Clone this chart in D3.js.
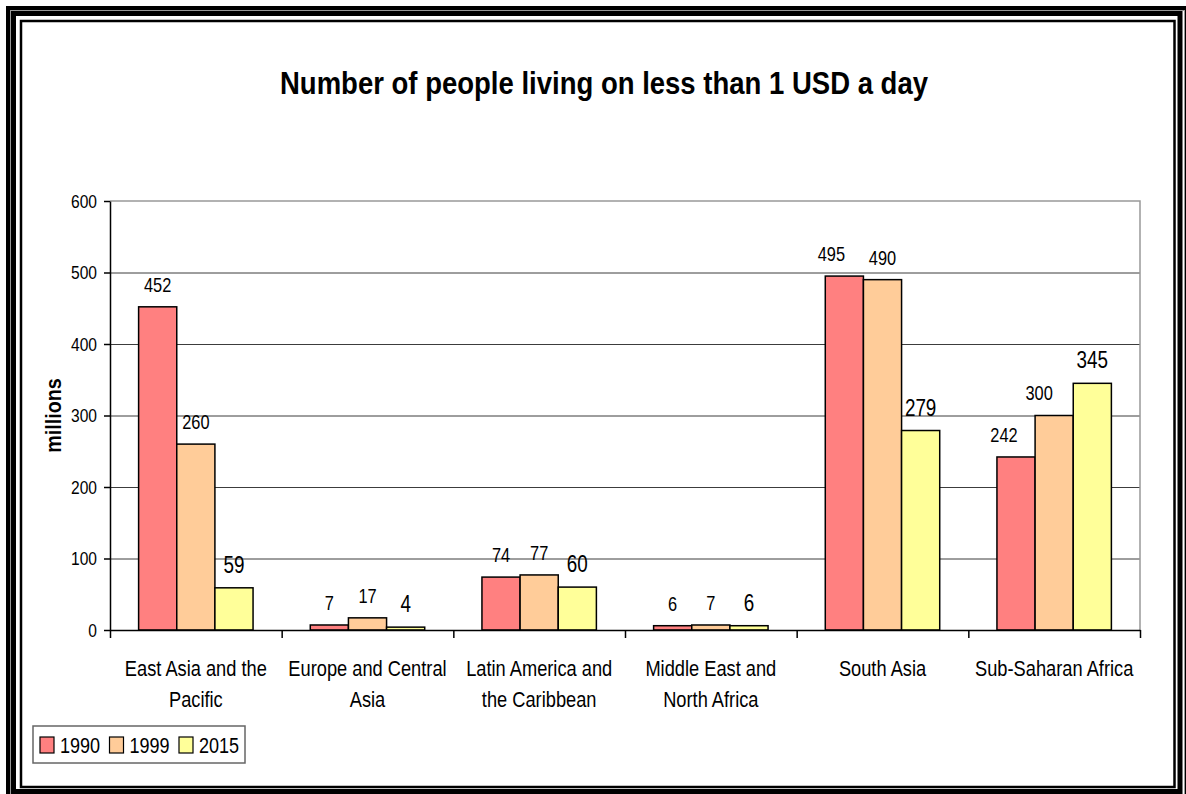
<!DOCTYPE html>
<html lang="en">
<head>
    <meta charset="UTF-8">
    <script src="https://d3js.org/d3.v7.min.js"></script>
    <title>People living on less than 1 USD a day</title>
    <style>
        body { margin: 0; background: #fff; }
        text { font-family: "Liberation Sans Narrow", "Arial Narrow", "Liberation Sans", Arial, sans-serif; fill: #000; }
    </style>
</head>
<body>
    <script>

        // data (millions of people)
        var categories = [
            ["East Asia and the", "Pacific"],
            ["Europe and Central", "Asia"],
            ["Latin America and", "the Caribbean"],
            ["Middle East and", "North Africa"],
            ["South Asia"],
            ["Sub-Saharan Africa"]
        ];
        var series = ["1990", "1999", "2015"];
        var values1990 = [452, 7, 74, 6, 495, 242];
        var values1999 = [260, 17, 77, 7, 490, 300];
        var values2015 = [59, 4, 60, 6, 279, 345];
        var yTicks = [0, 100, 200, 300, 400, 500, 600];
        var colors = ["#ff8080", "#ffcc99", "#ffff99"];

        var width = 1186, height = 794;
        var margin = {top: 201, right: 46, bottom: 164, left: 110};
        var plotW = width - margin.left - margin.right;
        var plotH = height - margin.top - margin.bottom;

        // the original uses a narrow face, squeeze the text sideways to get the same look
        var narrow = 0.82;
        function squeeze(sel, k) {
            sel.each(function() {
                var t = d3.select(this);
                var ax = +t.attr("x") || 0;
                var prev = t.attr("transform") || "";
                t.attr("transform", prev + " translate(" + ax + ",0) scale(" + k + ",1) translate(" + (-ax) + ",0)");
            });
        }

        var catNames = categories.map(function(c) {return c.join(" ")});
        var allValues = [values1990, values1999, values2015];

        var data = [];
        catNames.forEach(function(name, i) {
            series.forEach(function(s, j) {
                data.push({cat: name, series: s, si: j, value: allValues[j][i]});
            });
        });

        var svg = d3.select("body")
            .append("svg")
            .attr("width", width)
            .attr("height", height);

        // the frame around the whole chart
        var frame = svg.append("g").attr("fill", "none");
        frame.append("rect").attr("x", 8).attr("y", 8).attr("width", 1178).attr("height", 790)
            .attr("stroke", "#000").attr("stroke-width", 4);
        frame.append("rect").attr("x", 10.5).attr("y", 10.5).attr("width", 1174).attr("height", 785)
            .attr("stroke", "#999").attr("stroke-width", 1);
        frame.append("rect").attr("x", 13.5).attr("y", 13.5).attr("width", 1166.5).attr("height", 778)
            .attr("stroke", "#000").attr("stroke-width", 5);
        frame.append("rect").attr("x", 21).attr("y", 21).attr("width", 1153.5).attr("height", 766)
            .attr("stroke", "#000").attr("stroke-width", 2.5);

        var x0 = d3.scaleBand()
            .domain(catNames)
            .range([margin.left, margin.left + plotW]);

        var x1 = d3.scaleBand()
            .domain(series)
            .range([0, x0.bandwidth()])
            .paddingOuter(0.75);

        var xEdge = d3.scaleLinear()
            .domain([0, catNames.length])
            .range([margin.left, margin.left + plotW]);

        var y = d3.scaleLinear()
            .domain([0, 600])
            .range([margin.top + plotH, margin.top]);

        var color = d3.scaleOrdinal().domain(series).range(colors);

        // grid lines
        svg.append("g")
            .attr("transform", "translate(" + margin.left + ",0)")
            .call(d3.axisLeft(y).tickValues(yTicks.slice(1, -1)).tickSize(-plotW).tickFormat(""))
            .call(function(g) {g.select(".domain").remove()})
            .selectAll("line").attr("stroke", "#3c3c3c");

        // plot area border (top and right)
        svg.append("path")
            .attr("d", "M" + margin.left + "," + y(600) + "H" + (margin.left + plotW) + "V" + y(0))
            .attr("fill", "none")
            .attr("stroke", "#999")
            .attr("stroke-width", 1.5);

        // bars
        svg.append("g")
            .selectAll("rect")
            .data(data)
            .enter()
            .append("rect")
            .attr("x", function(d) {return x0(d.cat) + x1(d.series)})
            .attr("y", function(d) {return y(d.value)})
            .attr("width", x1.bandwidth())
            .attr("height", function(d) {return y(0) - y(d.value)})
            .attr("fill", function(d) {return color(d.series)})
            .attr("stroke", "#000")
            .attr("stroke-width", 1.5);

        // value labels, a few were nudged by hand in the original
        var nudge = {"South Asia|1990": -13, "Sub-Saharan Africa|1990": -12, "Sub-Saharan Africa|1999": -15};
        svg.append("g")
            .selectAll("text")
            .data(data)
            .enter()
            .append("text")
            .attr("x", function(d) {return x0(d.cat) + x1(d.series) + x1.bandwidth() / 2 + (nudge[d.cat + "|" + d.series] || 0)})
            .attr("y", function(d) {return y(d.value) - 15})
            .attr("text-anchor", "middle")
            .style("font-size", function(d) {return d.si == 2 ? "23px" : "20px"})
            .text(function(d) {return d.value})
            .call(squeeze, narrow);

        // y axis
        var yAxis = svg.append("g")
            .attr("transform", "translate(" + margin.left + ",0)")
            .call(d3.axisLeft(y).tickValues(yTicks).tickSize(6).tickPadding(7).tickSizeOuter(0));
        yAxis.select(".domain").attr("stroke", "#000").attr("stroke-width", 1.5);
        yAxis.selectAll("line").attr("stroke", "#000").attr("stroke-width", 1.5);
        yAxis.selectAll("text").style("font-size", "19px").style("font-family", null).attr("fill", "#000")
            .call(squeeze, narrow);

        // x axis, ticks sit between the categories
        var xAxis = svg.append("g")
            .attr("transform", "translate(0," + y(0) + ")")
            .call(d3.axisBottom(xEdge).ticks(catNames.length).tickSize(8).tickFormat("").tickSizeOuter(0));
        xAxis.select(".domain").attr("stroke", "#000").attr("stroke-width", 1.5);
        xAxis.selectAll("line").attr("stroke", "#000").attr("stroke-width", 1.5);

        // category labels
        var catLabels = svg.append("g")
            .selectAll("text")
            .data(categories)
            .enter()
            .append("text")
            .attr("text-anchor", "middle")
            .attr("transform", function(d, i) {return "translate(" + (x0(catNames[i]) + x0.bandwidth() / 2) + ",676)"})
            .style("font-size", "22px");
        catLabels.selectAll("tspan")
            .data(function(d) {return d})
            .enter()
            .append("tspan")
            .attr("x", 0)
            .attr("y", function(d, i) {return i * 31})
            .text(function(d) {return d});
        catLabels.call(squeeze, 0.83);

        // title
        svg.append("text")
            .attr("x", 604)
            .attr("y", 94)
            .attr("text-anchor", "middle")
            .style("font-size", "32px")
            .style("font-weight", "bold")
            .text("Number of people living on less than 1 USD a day")
            .call(squeeze, 0.86);

        // y axis title
        svg.append("text")
            .attr("transform", "translate(61," + (margin.top + plotH / 2) + ") rotate(-90)")
            .attr("text-anchor", "middle")
            .style("font-size", "22px")
            .style("font-weight", "bold")
            .text("millions")
            .call(squeeze, 0.9);

        // legend
        var legend = svg.append("g").attr("transform", "translate(33,726)");
        legend.append("rect")
            .attr("width", 212)
            .attr("height", 37)
            .attr("fill", "#fff")
            .attr("stroke", "#666")
            .attr("stroke-width", 1.5);
        var items = legend.selectAll(".item")
            .data(series)
            .enter()
            .append("g")
            .attr("class", "item")
            .attr("transform", function(d, i) {return "translate(" + (7 + i * 69.5) + ",0)"});
        items.append("rect")
            .attr("y", 11)
            .attr("width", 14)
            .attr("height", 16)
            .attr("fill", function(d) {return color(d)})
            .attr("stroke", "#000")
            .attr("stroke-width", 1.2);
        items.append("text")
            .attr("x", 20)
            .attr("y", 27)
            .style("font-size", "22px")
            .text(function(d) {return d})
            .call(squeeze, narrow);

</script>
</body>
</html>
